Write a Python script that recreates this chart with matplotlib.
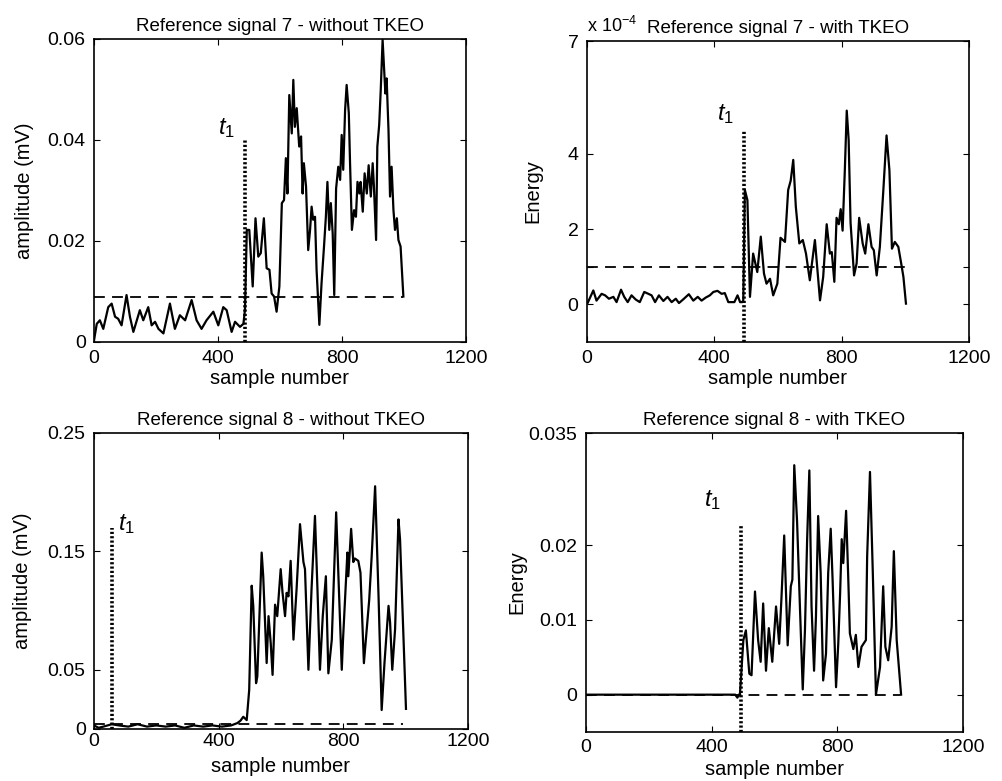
import matplotlib
matplotlib.use("Agg")
from matplotlib import pyplot as plt

plt.rcParams['font.family'] = ['Liberation Sans', 'DejaVu Sans']
plt.rcParams['mathtext.fontset'] = 'custom'
plt.rcParams['mathtext.it'] = 'Liberation Sans:italic'
plt.rcParams['mathtext.rm'] = 'Liberation Sans'

# signal 7 - without TKEO (mV)
sig7_x = [0, 9, 19, 30, 46, 57, 68, 78, 89, 105, 116, 127, 148, 159, 175, 186, 197, 208, 224, 245,
          261, 277, 294, 315, 331, 347, 363, 385, 401, 417, 428, 444, 455, 471, 482,
          487, 493, 501, 512, 521, 530, 538, 548, 557, 566, 573, 581, 589, 598, 606, 613, 619, 624,
          630, 638, 643, 648, 654, 662, 668, 673, 677, 684, 691, 697, 702, 707, 713, 718, 727, 734,
          742, 748, 753, 759, 764, 770, 775, 781, 788, 794, 799, 804, 810, 815, 822, 826, 832, 839,
          845, 850, 856, 860, 867, 873, 880, 886, 893, 899, 903, 910, 914, 920, 925, 931, 936, 940,
          944, 950, 955, 960, 966, 971, 977, 982, 989, 998]
sig7_y = [0.0003, 0.0036, 0.0043, 0.0026, 0.0069, 0.0076, 0.005, 0.0046, 0.0033, 0.0093,
          0.005, 0.002, 0.0063, 0.0043, 0.0069, 0.0033, 0.004, 0.0026, 0.0017, 0.0076,
          0.0026, 0.0053, 0.0043, 0.0083, 0.0043, 0.0026, 0.0043, 0.006, 0.0033, 0.0069,
          0.0063, 0.002, 0.004, 0.003, 0.0036,
          0.0063, 0.0222, 0.0222, 0.011, 0.0245, 0.0169, 0.0176, 0.0245, 0.0146, 0.0143,
          0.0096, 0.009, 0.006, 0.011, 0.0275, 0.0281, 0.0364, 0.0294, 0.0489, 0.0413,
          0.0519, 0.0426, 0.0463, 0.0387, 0.0407, 0.0294, 0.0354, 0.0308, 0.0182, 0.0222,
          0.0268, 0.0242, 0.0248, 0.0143, 0.0034, 0.0116, 0.0189, 0.0248, 0.0317, 0.0222,
          0.0275, 0.0215, 0.0093, 0.0304, 0.0347, 0.0321, 0.041, 0.0341, 0.0459, 0.0509,
          0.0453, 0.0354, 0.0222, 0.0261, 0.0248, 0.0317, 0.0294, 0.0317, 0.0258, 0.0334,
          0.0294, 0.035, 0.0288, 0.0354, 0.0308, 0.0202, 0.0387, 0.043, 0.0499, 0.0598,
          0.0539, 0.0492, 0.0522, 0.042, 0.0288, 0.0347, 0.0261, 0.0222, 0.0245, 0.0202,
          0.0189, 0.009]

# signal 7 - with TKEO (x 1e-4)
tk7_x = [2, 20, 30, 46, 57, 69, 83, 93, 107, 117, 128, 140, 153, 166, 180, 193, 203, 214, 226, 240,
         253, 266, 279, 289, 302, 320, 334, 348, 360, 373, 386, 397, 410, 423, 433, 444, 463, 473, 481, 488,
         491, 496, 504, 512, 522, 535, 546, 556, 564, 575, 585, 598, 608, 622, 632, 640, 648, 656,
         667, 678, 688, 700, 716, 732, 742, 753, 763, 769, 777, 784, 791, 797, 803, 810, 816, 822,
         828, 839, 847, 855, 866, 874, 884, 894, 901, 910, 920, 931, 941, 950, 958, 967, 978, 988,
         994, 1002]
tk7_y = [0.035, 0.37, 0.1, 0.28, 0.24, 0.15, 0.2, 0.06, 0.39, 0.2, 0.06, 0.24, 0.13, 0.06, 0.33,
         0.28, 0.24, 0.06, 0.24, 0.09, 0.2, 0.06, 0.15, 0.035, 0.13, 0.27, 0.1, 0.2, 0.1, 0.18,
         0.24, 0.33, 0.36, 0.28, 0.3, 0.06, 0.06, 0.24, 0.06, 0.06,
         0.107, 3.04, 2.77, 0.2, 1.35, 0.86, 1.8, 0.82, 0.55, 0.68, 0.24, 0.55, 1.77, 1.66, 3.04,
         3.29, 3.84, 2.6, 1.62, 1.71, 1.35, 0.64, 1.71, 0.107, 0.73, 2.13, 1.35, 1.39, 0.6, 2.3,
         2.13, 2.53, 1.96, 3.57, 5.15, 4.37, 2.17, 0.77, 1.09, 2.3, 1.62, 1.35, 2.13, 1.53, 1.44,
         0.77, 1.53, 3.04, 4.49, 3.57, 1.48, 1.66, 1.53, 1.04, 0.73, 0.02]

# signal 8 - without TKEO (mV)
sig8_x = [0, 15, 30, 57, 80, 110, 140, 170, 200, 230, 260, 290, 320, 350, 380, 410, 440, 460, 470,
          479, 490, 498, 506, 511, 520, 524, 538, 543, 554, 560, 567, 573, 581, 588, 599, 605, 613,
          618, 624, 631, 640, 650, 661, 672, 677, 688, 698, 709, 717, 725, 734, 744, 752, 763, 777,
          795, 799, 813, 816, 825, 832, 837, 848, 855, 866, 875, 883, 891, 902, 913, 923, 932, 945,
          950, 957, 966, 977, 982, 1001]
sig8_y = [0.003, 0.001, 0.002, 0.004, 0.003, 0.002, 0.004, 0.002, 0.003, 0.002, 0.003, 0.001,
          0.003, 0.002, 0.003, 0.002, 0.003, 0.005, 0.007,
          0.0103, 0.0075, 0.033, 0.121, 0.104, 0.0387, 0.0443, 0.149, 0.129, 0.0557, 0.0953,
          0.0727, 0.0457, 0.105, 0.0953, 0.135, 0.115, 0.0953, 0.115, 0.112, 0.142, 0.0755, 0.118,
          0.173, 0.141, 0.135, 0.05, 0.118, 0.18, 0.118, 0.05, 0.0953, 0.129, 0.047, 0.0755, 0.183,
          0.05, 0.0754, 0.149, 0.129, 0.169, 0.141, 0.144, 0.142, 0.132, 0.0556, 0.084, 0.109,
          0.146, 0.205, 0.112, 0.016, 0.0556, 0.104, 0.09, 0.05, 0.084, 0.177, 0.16, 0.017]

# signal 8 - with TKEO
tk8_x = [0, 475, 482, 487, 490, 501, 509, 520, 527, 538, 548, 556, 564, 573, 582, 593, 605, 615,
         622, 631, 642, 652, 657, 663, 672, 681, 690, 697, 704, 711, 718, 726, 732, 739, 747, 755,
         764, 771, 779, 785, 796, 803, 809, 814, 819, 828, 835, 840, 851, 859, 867, 877, 891, 895,
         904, 913, 923, 936, 946, 953, 962, 973, 980, 989, 1003]
tk8_y = [0, 0, -0.0004, 0, 0, 0.0073, 0.0086, 0.0028, 0.0026, 0.0138, 0.0073, 0.0044, 0.0122,
         0.0032, 0.0089, 0.0044, 0.0118, 0.0068, 0.0127, 0.0213, 0.0066, 0.0145, 0.0154, 0.0307,
         0.0231, 0.0118, 0.0007, 0.0086, 0.0208, 0.03, 0.0118, 0.0032, 0.0104, 0.0239, 0.0163,
         0.0019, 0.0055, 0.0163, 0.0222, 0.0154, 0.001, 0.0068, 0.0136, 0.0208, 0.0176, 0.0246,
         0.0154, 0.0082, 0.0061, 0.008, 0.0037, 0.0064, 0.0073, 0.0185, 0.0298, 0.0163, 0.0,
         0.0037, 0.0145, 0.0064, 0.0046, 0.0091, 0.0192, 0.0073, 0.0]

titles = ["Reference signal 7 - without TKEO", "Reference signal 7 - with TKEO",
          "Reference signal 8 - without TKEO", "Reference signal 8 - with TKEO"]
ylabels = ["amplitude (mV)", "Energy", "amplitude (mV)", "Energy"]
thresholds = [0.0089, 1e-4, 0.0038, 0.0]
thr_end = [998, 999, 990, 1000]
t1 = [487, 494, 57, 492]
t1_top = [0.040, 4.64e-4, 0.170, 0.0226]
ylims = [(0, 0.06), (-1e-4, 7e-4), (0, 0.25), (-0.005, 0.035)]
yticks = [[0, 0.02, 0.04, 0.06], [0, 1e-4, 2e-4, 4e-4, 7e-4], [0, 0.05, 0.15, 0.25], [0, 0.01, 0.02, 0.035]]
yticklabels = [["0", "0.02", "0.04", "0.06"], ["0", "", "2", "4", "7"],
               ["0", "0.05", "0.15", "0.25"], ["0", "0.01", "0.02", "0.035"]]
xticks = [0, 400, 800, 1200]

fig = plt.figure(figsize=(10.03, 7.81), dpi=100)
rects = [[0.0937, 0.5621, 0.3709, 0.388],
         [0.5852, 0.5621, 0.3809, 0.3854],
         [0.0937, 0.0666, 0.3729, 0.379],
         [0.5842, 0.0627, 0.3759, 0.3828]]
series = [(sig7_x, sig7_y, 1.0), (tk7_x, tk7_y, 1e-4), (sig8_x, sig8_y, 1.0), (tk8_x, tk8_y, 1.0)]
# label offsets for t1 (in pixels, relative to top of marker line)
t1_off = [(-10, 0, 'right'), (-10, 4, 'right'), (6, -8, 'left'), (-20, 14, 'right')]
xlabel_pad = [1, 1, 5, 3]
xtick_pad = [6, 6, 3, 5]
ylabel_pad = [10, 18, 11, 2]

for i in range(4):
    ax = fig.add_axes(rects[i])
    xs, ys, scale = series[i]
    ax.plot(xs, [v * scale for v in ys], color='black', lw=1.6, zorder=3)
    ax.plot([0, thr_end[i]], [thresholds[i], thresholds[i]], color='black', lw=1.3,
            linestyle=(0, (6, 4)), zorder=2)
    ax.plot([t1[i], t1[i]], [ylims[i][0], t1_top[i]], color='black', lw=2.6,
            linestyle=(0, (0.6, 0.6)), zorder=4)
    dx, dy, ha = t1_off[i]
    ax.annotate(r'$t_1$', xy=(t1[i], t1_top[i]), xytext=(dx, dy), textcoords='offset pixels',
                ha=ha, va='bottom', fontsize=17)
    ax.set_xlim(0, 1200)
    ax.set_ylim(*ylims[i])
    ax.set_xticks(xticks)
    ax.set_xticklabels([str(v) for v in xticks])
    ax.set_yticks(yticks[i])
    ax.set_yticklabels(yticklabels[i])
    ax.tick_params(direction='in', top=True, right=True, length=4, width=0.8, labelsize=14)
    ax.tick_params(axis='x', pad=xtick_pad[i])
    ax.tick_params(axis='y', pad=6)
    for sp in ax.spines.values():
        sp.set_linewidth(1.2)
    ax.set_title(titles[i], fontsize=13.5, pad=6)
    ax.set_xlabel("sample number", fontsize=14.5, labelpad=xlabel_pad[i])
    ax.set_ylabel(ylabels[i], fontsize=14.5, labelpad=ylabel_pad[i])
    if i == 1:
        ax.text(0.0, 1.015, r'x 10$^{-4}$', transform=ax.transAxes, fontsize=13,
                ha='left', va='bottom')

fig.savefig("out.png", dpi=100)
